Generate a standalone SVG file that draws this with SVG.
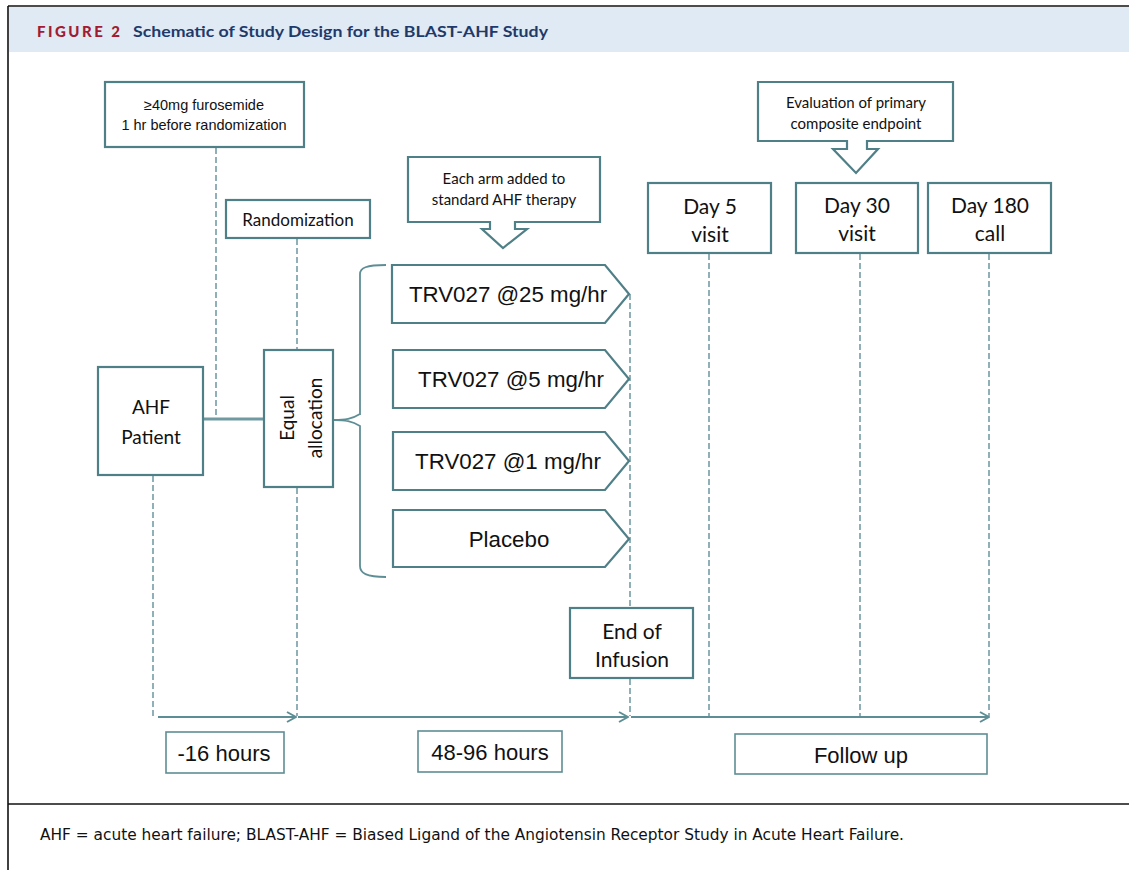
<svg xmlns="http://www.w3.org/2000/svg" width="1129" height="870" viewBox="0 0 1129 870">
<defs>
<style>
.box{fill:#fff;stroke:#4f7f87;stroke-width:2.2}
.thin{fill:#fff;stroke:#5e8e95;stroke-width:1.6}
.dash{fill:none;stroke:#6a979e;stroke-width:1.5;stroke-dasharray:6 3}
.axis{fill:none;stroke:#5e8e95;stroke-width:2}
.cal{font-family:Lato,"Open Sans","Liberation Sans",sans-serif;fill:#111;text-anchor:middle}
.ari{font-family:"Liberation Sans",Arial,sans-serif;fill:#111;text-anchor:middle}
</style>
<marker id="chev" viewBox="0 0 12 12" refX="11" refY="6" markerWidth="12" markerHeight="12" markerUnits="userSpaceOnUse" orient="auto">
<path d="M2,1 L11,6 L2,11" fill="none" stroke="#5e8e95" stroke-width="2"/>
</marker>
<filter id="sh" x="-20%" y="-50%" width="140%" height="300%">
<feGaussianBlur stdDeviation="1.5"/>
</filter>
</defs>
<rect x="0" y="0" width="1129" height="870" fill="#fff"/>
<!-- frame -->
<rect x="9" y="7" width="1120" height="45" fill="#dfeaf5"/>
<line x1="8" y1="6" x2="1129" y2="6" stroke="#111" stroke-width="1.6"/>
<line x1="8" y1="6" x2="8" y2="870" stroke="#111" stroke-width="1.6"/>
<line x1="8" y1="804" x2="1129" y2="804" stroke="#111" stroke-width="1.6"/>
<text x="37" y="37" font-family="Lato,'Open Sans',sans-serif" font-weight="900" font-size="15" fill="#a11c33" textLength="83" lengthAdjust="spacing">FIGURE 2</text>
<text x="133" y="37" font-family="Lato,'Open Sans',sans-serif" font-weight="bold" font-size="15.5" fill="#1f3a6a" textLength="415" lengthAdjust="spacingAndGlyphs">Schematic of Study Design for the BLAST-AHF Study</text>
<text x="40" y="840" font-family="'DejaVu Sans','Open Sans',sans-serif" font-stretch="condensed" font-size="15" fill="#111" textLength="864" lengthAdjust="spacingAndGlyphs">AHF = acute heart failure; BLAST-AHF = Biased Ligand of the Angiotensin Receptor Study in Acute Heart Failure.</text>

<!-- connectors -->
<g id="connectors">
<line class="dash" x1="216" y1="148" x2="216" y2="417"/>
<line class="dash" x1="297" y1="239" x2="297" y2="350"/>
<line class="dash" x1="297" y1="488" x2="297" y2="716"/>
<line class="dash" x1="153" y1="476" x2="153" y2="716"/>
<line class="dash" x1="630" y1="294" x2="630" y2="608"/>
<line class="dash" x1="630" y1="679" x2="630" y2="716"/>
<line class="dash" x1="709" y1="254" x2="709" y2="716"/>
<line class="dash" x1="860" y1="254" x2="860" y2="716"/>
<line class="dash" x1="989" y1="254" x2="989" y2="716"/>
<line x1="204" y1="422" x2="263" y2="422" stroke="#999" stroke-width="3" filter="url(#sh)"/>
<line x1="203" y1="419" x2="264" y2="419" stroke="#6f9aa1" stroke-width="3"/>
<path d="M334,420 C345,420 352,421 360,426 L360,566 C360,573 366,577 386,577 M360,415 L360,274 C360,268 366,265 386,265 M334,420 C345,420 352,419 360,414" fill="none" stroke="#5e8e95" stroke-width="1.8"/>
<line class="axis" x1="158" y1="717" x2="296" y2="717" marker-end="url(#chev)"/>
<line class="axis" x1="298" y1="717" x2="628" y2="717" marker-end="url(#chev)"/>
<line class="axis" x1="631" y1="717" x2="989" y2="717" marker-end="url(#chev)"/>
</g>

<g id="furosemide">
<rect class="box" x="105" y="82" width="199" height="65"/>
<text class="ari" x="204" y="110" font-size="14.5">≥40mg furosemide</text>
<text class="ari" x="204" y="130" font-size="14.5">1 hr before randomization</text>
</g>
<g id="randomization">
<rect class="box" x="226" y="200" width="144" height="38"/>
<text class="cal" x="298" y="226" font-size="17">Randomization</text>
</g>
<g id="ahf-patient">
<rect class="box" x="98" y="367" width="105" height="108"/>
<text class="cal" x="151" y="414" font-size="19">AHF</text>
<text class="cal" x="151" y="444" font-size="19">Patient</text>
</g>
<g id="equal-allocation">
<rect class="box" x="264" y="350" width="69" height="137"/>
<text class="cal" font-size="19" transform="translate(294,418) rotate(-90)">Equal</text>
<text class="cal" font-size="19" transform="translate(322,418) rotate(-90)">allocation</text>
</g>
<g id="each-arm">
<path class="box" d="M408,157 H600 V222 H515 V229 H527 L503,248 L482,229 H490 V222 H408 Z"/>
<text class="cal" x="504" y="184" font-size="15">Each arm added to</text>
<text class="cal" x="504" y="205" font-size="15">standard AHF therapy</text>
</g>
<g id="arm-25">
<path class="box" d="M392,265 H605 L629,294 L605,323 H392 Z"/>
<text class="ari" x="508" y="302" font-size="22.3">TRV027 @25 mg/hr</text>
</g>
<g id="arm-5">
<path class="box" d="M393,350 H605 L629,379 L605,408 H393 Z"/>
<text class="ari" x="511" y="387" font-size="22.3">TRV027 @5 mg/hr</text>
</g>
<g id="arm-1">
<path class="box" d="M393,432 H605 L629,461 L605,490 H393 Z"/>
<text class="ari" x="508" y="469" font-size="22.3">TRV027 @1 mg/hr</text>
</g>
<g id="placebo">
<path class="box" d="M393,510 H605 L629,539 L605,567 H393 Z"/>
<text class="ari" x="509" y="547" font-size="22.3">Placebo</text>
</g>
<g id="evaluation">
<path class="box" d="M758,82 H953 V141 H867 V149 H878 L856,173 L833,149 H847 V141 H758 Z"/>
<text class="cal" x="856" y="108" font-size="15">Evaluation of primary</text>
<text class="cal" x="856" y="129" font-size="15">composite endpoint</text>
</g>
<g id="day5">
<rect class="box" x="648" y="183" width="123" height="70"/>
<text class="cal" x="710" y="214" font-size="21">Day 5</text>
<text class="cal" x="710" y="242" font-size="21">visit</text>
</g>
<g id="day30">
<rect class="box" x="796" y="183" width="122" height="70"/>
<text class="cal" x="857" y="213" font-size="21">Day 30</text>
<text class="cal" x="857" y="241" font-size="21">visit</text>
</g>
<g id="day180">
<rect class="box" x="928" y="183" width="123" height="70"/>
<text class="cal" x="990" y="213" font-size="21">Day 180</text>
<text class="cal" x="990" y="241" font-size="21">call</text>
</g>
<g id="end-infusion">
<rect class="box" x="570" y="608" width="123" height="70"/>
<text class="cal" x="632" y="639" font-size="21">End of</text>
<text class="cal" x="632" y="667" font-size="21">Infusion</text>
</g>
<g id="h16">
<rect class="thin" x="166" y="732" width="118" height="41"/>
<text class="ari" x="224" y="761" font-size="22">-16 hours</text>
</g>
<g id="h4896">
<rect class="thin" x="418" y="731" width="144" height="41"/>
<text class="ari" x="490" y="760" font-size="22">48-96 hours</text>
</g>
<g id="follow-up">
<rect class="thin" x="735" y="734" width="252" height="40"/>
<text class="ari" x="861" y="763" font-size="22">Follow up</text>
</g>
</svg>
